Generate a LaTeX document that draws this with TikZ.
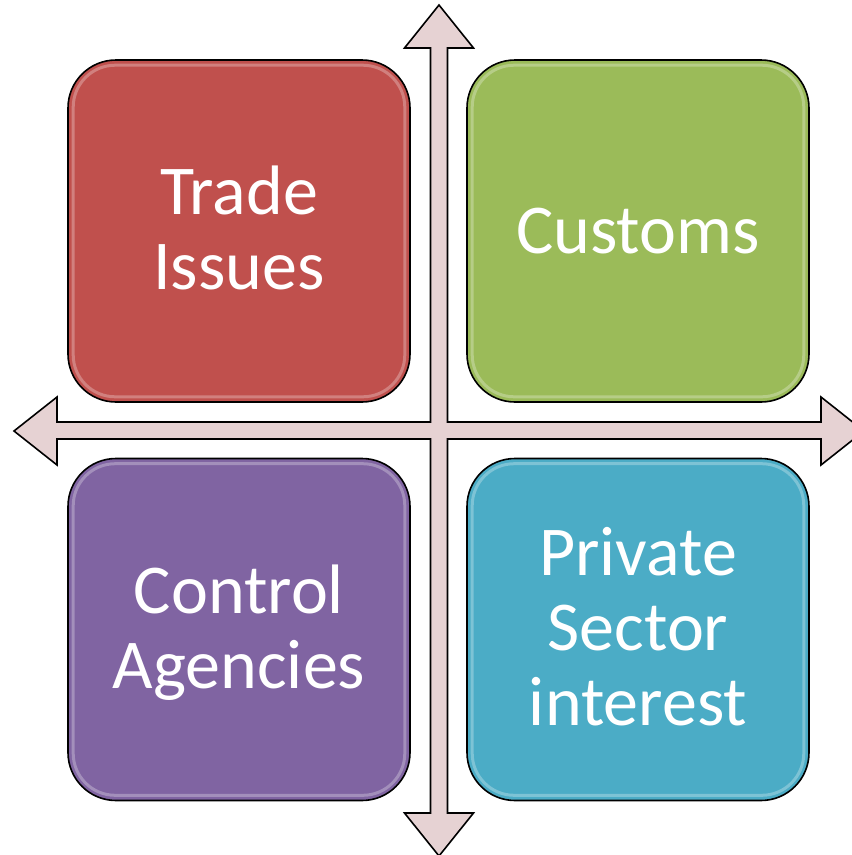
\documentclass[tikz,border=0pt]{standalone}
\usepackage{fontspec}
\setmainfont{Carlito}
\usetikzlibrary{positioning}
\definecolor{tradered}{RGB}{192,80,77}
\definecolor{customsgreen}{RGB}{155,187,89}
\definecolor{controlpurple}{RGB}{128,100,162}
\definecolor{privatecyan}{RGB}{75,172,198}
\definecolor{crosspink}{RGB}{230,210,211}

\begin{document}
\begin{tikzpicture}[x=1pt,y=-1pt,
    every node/.append style={font=\fontsize{70}{75}\selectfont, text=white, align=center},
    quad/.style={draw=black, line width=1.6pt, rounded corners=48pt,
                 minimum width=342pt, minimum height=342pt, inner sep=0pt},
    gloss/.style={draw=white, draw opacity=.28, line width=3pt, rounded corners=42pt}]
    \useasboundingbox (0,0) rectangle (852,855);
    \clip (0,0) rectangle (852,855);
    % cross of arrows
    \draw[fill=crosspink, line width=1.6pt, line join=miter]
      (439,5) -- (473.5,48) -- (447.5,48) -- (447.5,422) -- (821,422) -- (821,397)
      -- (864,431) -- (821,465) -- (821,439) -- (447.5,439) -- (447.5,813)
      -- (473.5,813) -- (439,856) -- (404.5,813) -- (430.5,813) -- (430.5,439)
      -- (57,439) -- (57,465) -- (14,431) -- (57,397) -- (57,422) -- (430.5,422)
      -- (430.5,48) -- (404.5,48) -- cycle;
    % the four boxes
    \node[quad, fill=tradered, text depth=6pt]      (trade)   at (239,231)   {Trade\\Issues};
    \node[quad, fill=customsgreen]                  (customs) at (638,231)   {Customs};
    \node[quad, fill=controlpurple, text depth=6pt] (control) at (239,629.5) {Control\\Agencies};
    \node[quad, fill=privatecyan, text depth=7pt]   (private) at (638,629.5) {Private\\Sector\\interest};
    \foreach \b in {trade,customs,control,private}
      \draw[gloss] ([shift={(6pt,-6pt)}]\b.north west) rectangle ([shift={(-6pt,6pt)}]\b.south east);
\end{tikzpicture}
\end{document}
